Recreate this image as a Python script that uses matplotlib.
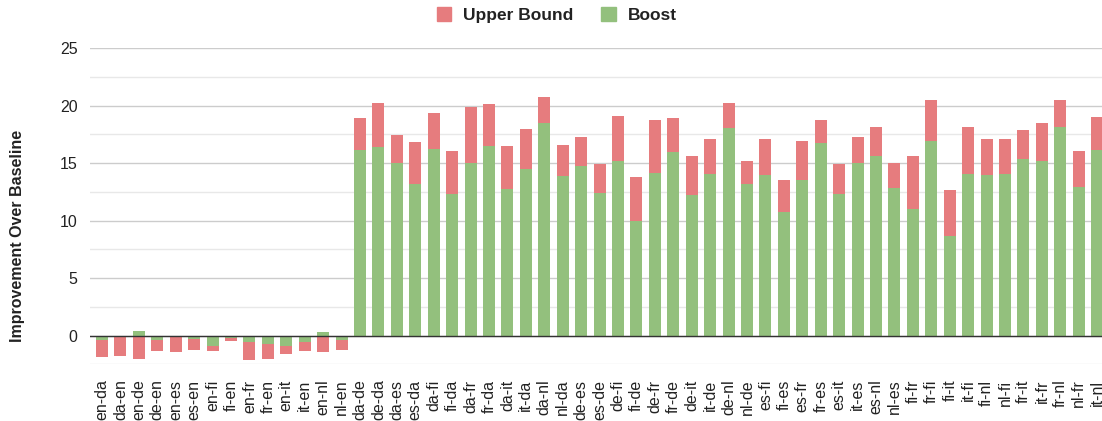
import matplotlib.pyplot as plt
import numpy as np

plt.rcParams['font.family'] = ['Liberation Sans', 'DejaVu Sans']

pairs = ["en-da", "da-en", "en-de", "de-en", "en-es", "es-en", "en-fi", "fi-en",
         "en-fr", "fr-en", "en-it", "it-en", "en-nl", "nl-en",
         "da-de", "de-da", "da-es", "es-da", "da-fi", "fi-da", "da-fr", "fr-da",
         "da-it", "it-da", "da-nl", "nl-da",
         "de-es", "es-de", "de-fi", "fi-de", "de-fr", "fr-de", "de-it", "it-de",
         "de-nl", "nl-de",
         "es-fi", "fi-es", "es-fr", "fr-es", "es-it", "it-es", "es-nl", "nl-es",
         "fi-fr", "fr-fi", "fi-it", "it-fi", "fi-nl", "nl-fi",
         "fr-it", "it-fr", "fr-nl", "nl-fr", "it-nl"]

upper_bound = [-1.9, -1.79, -2.02, -1.35, -1.47, -1.24, -1.35, -0.45,
               -2.14, -2.02, -1.59, -1.35, -1.47, -1.24,
               18.9, 20.2, 17.45, 16.8, 19.34, 16.05, 19.89, 20.12,
               16.46, 18.0, 20.76, 16.55,
               17.25, 14.9, 19.1, 13.76, 18.76, 18.87, 15.65, 17.07,
               20.21, 15.21,
               17.07, 13.55, 16.87, 18.76, 14.9, 17.3, 18.09, 14.98,
               15.65, 20.44, 12.65, 18.09, 17.07, 17.07,
               17.86, 18.52, 20.44, 16.08, 18.96]

boost = [-0.37, -0.16, 0.39, -0.37, -0.04, -0.28, -0.94, -0.19,
         -0.58, -0.7, -0.94, -0.58, 0.31, -0.37,
         16.1, 16.4, 15.03, 13.2, 16.19, 12.27, 15.03, 16.51,
         12.76, 14.45, 18.52, 13.84,
         14.74, 12.42, 15.17, 9.95, 14.16, 15.95, 12.18, 14.07,
         18.08, 13.2,
         13.95, 10.76, 13.52, 16.72, 12.27, 15.03, 15.61, 12.85,
         10.96, 16.92, 8.64, 14.07, 13.95, 14.07,
         15.38, 15.17, 18.14, 12.94, 16.17]

red = '#e67c7e'
green = '#93c07d'

x = np.arange(len(pairs))
up = np.array(upper_bound)
bo = np.array(boost)
same_sign = np.sign(up) == np.sign(bo)
red_bottom = np.where(same_sign, bo, 0)
red_height = up - red_bottom

fig = plt.figure(figsize=(11.02, 4.21), dpi=100)
ax = fig.add_axes([90 / 1102, 1 - 364.25 / 421, 1 - 90 / 1102, (364.25 - 48) / 421])

ax.bar(x, bo, width=0.65, color=green, zorder=3)
ax.bar(x, red_height, bottom=red_bottom, width=0.65, color=red, zorder=3)
ax.axhline(0, color='#333333', lw=1, zorder=4)

ax.set_ylim(-2.5, 25)
ax.set_xlim(-0.65, 54.26)
ax.set_yticks([0, 5, 10, 15, 20, 25])
ax.set_yticks(np.arange(-2.5, 25, 5), minor=True)
ax.grid(axis='y', which='major', color='#cccccc', lw=1, zorder=0)
ax.grid(axis='y', which='minor', color='#e8e8e8', lw=1, zorder=0)
ax.set_xticks(x)
ax.set_xticklabels(pairs, rotation=90, fontsize=11.5, color='#222222')
ax.tick_params(axis='x', length=0, pad=11)
ax.tick_params(axis='y', which='both', length=0, pad=9, labelsize=11.5, labelcolor='#222222')
for s in ax.spines.values():
    s.set_visible(False)

fig.text(18 / 1102, 1 - 236 / 421, "Improvement Over Baseline", rotation=90,
         fontsize=11.5, fontweight='bold', ha='center', va='center', color='#222222')

# legend
from matplotlib.patches import Patch
handles = [Patch(color=red, label='Upper Bound'), Patch(color=green, label='Boost')]
fig.legend(handles=handles, loc='center', bbox_to_anchor=(557 / 1102, 1 - 15 / 421), ncol=2,
           frameon=False, prop={'weight': 'bold', 'size': 12.5}, handlelength=0.85,
           handleheight=0.85, handletextpad=0.7, columnspacing=1.6,
           labelcolor='#222222')

fig.savefig('out.png', dpi=100)
